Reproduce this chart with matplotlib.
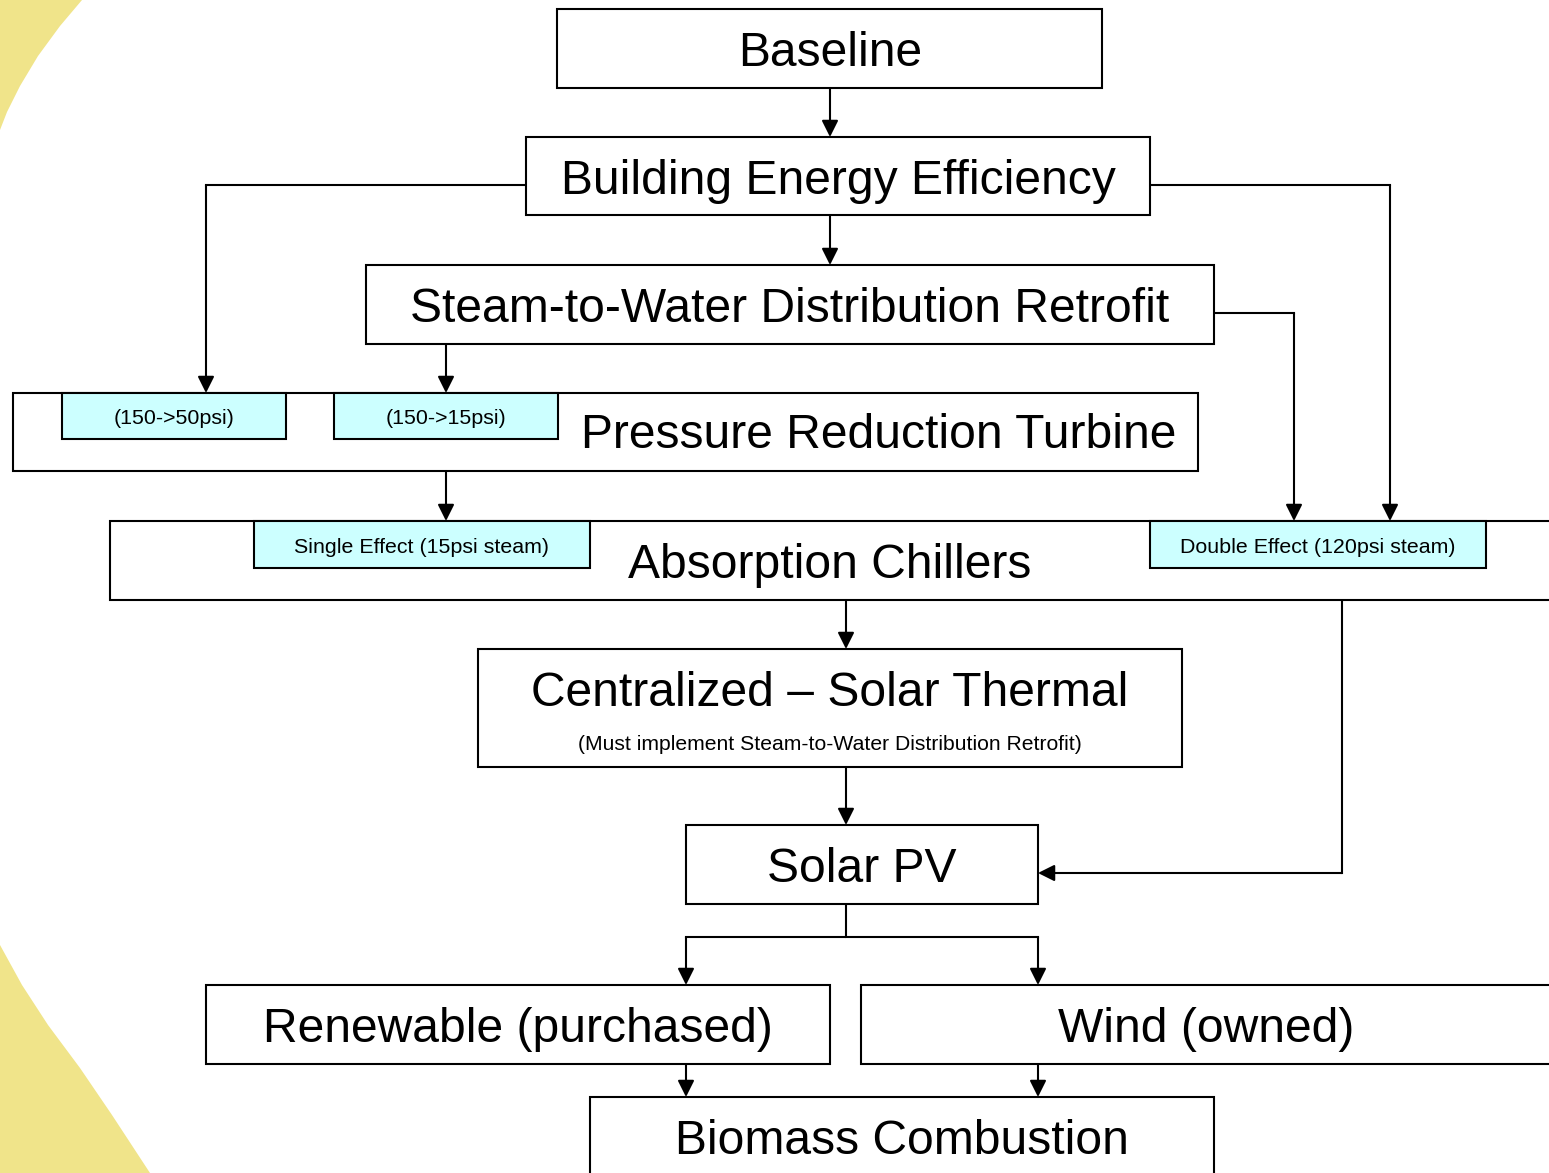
#Diagrama de flujo de opciones de energía (cadena de medidas)
import matplotlib.pyplot as plt
from matplotlib.patches import Rectangle, Polygon

plt.rcParams['font.family'] = ['Liberation Sans', 'DejaVu Sans']

W, H = 1549, 1173

#cajas principales: etiqueta, (x0, y0, x1, y1) en pixeles, centro del texto
main_labels = ['Baseline', 'Building Energy Efficiency', 'Steam-to-Water Distribution Retrofit',
               'Pressure Reduction Turbine', 'Absorption Chillers', 'Centralized \u2013 Solar Thermal',
               'Solar PV', 'Renewable (purchased)', 'Wind (owned)', 'Biomass Combustion']
main_boxes = [(557, 9, 1102, 88), (526, 137, 1150, 215), (366, 265, 1214, 344),
              (13, 393, 1198, 471), (110, 521, 1600, 600), (478, 649, 1182, 767),
              (686, 825, 1038, 904), (206, 985, 830, 1064), (861, 985, 1600, 1064),
              (590, 1097, 1214, 1250)]
main_text_xy = [(830, 53), (838, 181), (790, 309), (879, 436), (830, 565), (830, 693),
                (862, 869), (518, 1029), (1206, 1029), (902, 1141)]

#sub-cajas celestes
sub_labels = ['(150->50psi)', '(150->15psi)', 'Single Effect (15psi steam)', 'Double Effect (120psi steam)']
sub_boxes = [(62, 393, 286, 439), (334, 393, 558, 439), (254, 521, 590, 568), (1150, 521, 1486, 568)]

note_label = '(Must implement Steam-to-Water Distribution Retrofit)'
note_xy = (830, 745)

#conectores (polilineas), el ultimo tramo lleva flecha
connectors = [
    [(830, 88), (830, 137)],
    [(830, 215), (830, 265)],
    [(526, 185), (206, 185), (206, 393)],
    [(1150, 185), (1390, 185), (1390, 521)],
    [(1214, 313), (1294, 313), (1294, 521)],
    [(446, 344), (446, 393)],
    [(446, 471), (446, 521)],
    [(846, 600), (846, 649)],
    [(1342, 600), (1342, 873), (1038, 873)],
    [(846, 767), (846, 825)],
    [(846, 904), (846, 937), (686, 937), (686, 985)],
    [(846, 937), (1038, 937), (1038, 985)],
    [(686, 1064), (686, 1097)],
    [(1038, 1064), (1038, 1097)],
]

#media luna amarilla del fondo
yellow_top = [(0, 0), (82, 0), (60, 26), (38, 56), (20, 86), (7, 112), (0, 130)]
yellow_bottom = [(0, 945), (22, 985), (48, 1025), (80, 1068), (112, 1115), (150, 1173), (0, 1173)]

fig = plt.figure(figsize=(W / 100, H / 100), dpi=100)
ax = fig.add_axes([0, 0, 1, 1])
ax.set_xlim(0, W)
ax.set_ylim(H, 0)
ax.axis('off')

ax.add_patch(Polygon(yellow_top, closed=True, facecolor='#F0E48A', edgecolor='none', zorder=0))
ax.add_patch(Polygon(yellow_bottom, closed=True, facecolor='#F0E48A', edgecolor='none', zorder=0))

for (x0, y0, x1, y1) in main_boxes:
    ax.add_patch(Rectangle((x0, y0), x1 - x0, y1 - y0, facecolor='white', edgecolor='black', lw=1.5, zorder=2))
for lab, (x, y) in zip(main_labels, main_text_xy):
    ax.text(x, y, lab, fontsize=34.6, ha='center', va='center', zorder=4)

for lab, (x0, y0, x1, y1) in zip(sub_labels, sub_boxes):
    ax.add_patch(Rectangle((x0, y0), x1 - x0, y1 - y0, facecolor='#CCFFFF', edgecolor='black', lw=1.5, zorder=3))
    ax.text((x0 + x1) / 2, (y0 + y1) / 2 + 3, lab, fontsize=15.4, ha='center', va='center', zorder=4)

ax.text(note_xy[0], note_xy[1], note_label, fontsize=15.2, ha='center', va='center', zorder=4)

for path in connectors:
    xs = [p[0] for p in path]
    ys = [p[1] for p in path]
    ax.plot(xs[:-1], ys[:-1], color='black', lw=1.5, zorder=1, solid_capstyle='projecting')
    ax.annotate('', xy=path[-1], xytext=path[-2],
                arrowprops=dict(arrowstyle='-|>,head_length=0.5,head_width=0.25', mutation_scale=20,
                                color='black', lw=1.5, shrinkA=0, shrinkB=0), zorder=5)

plt.savefig('out.png', dpi=100)
